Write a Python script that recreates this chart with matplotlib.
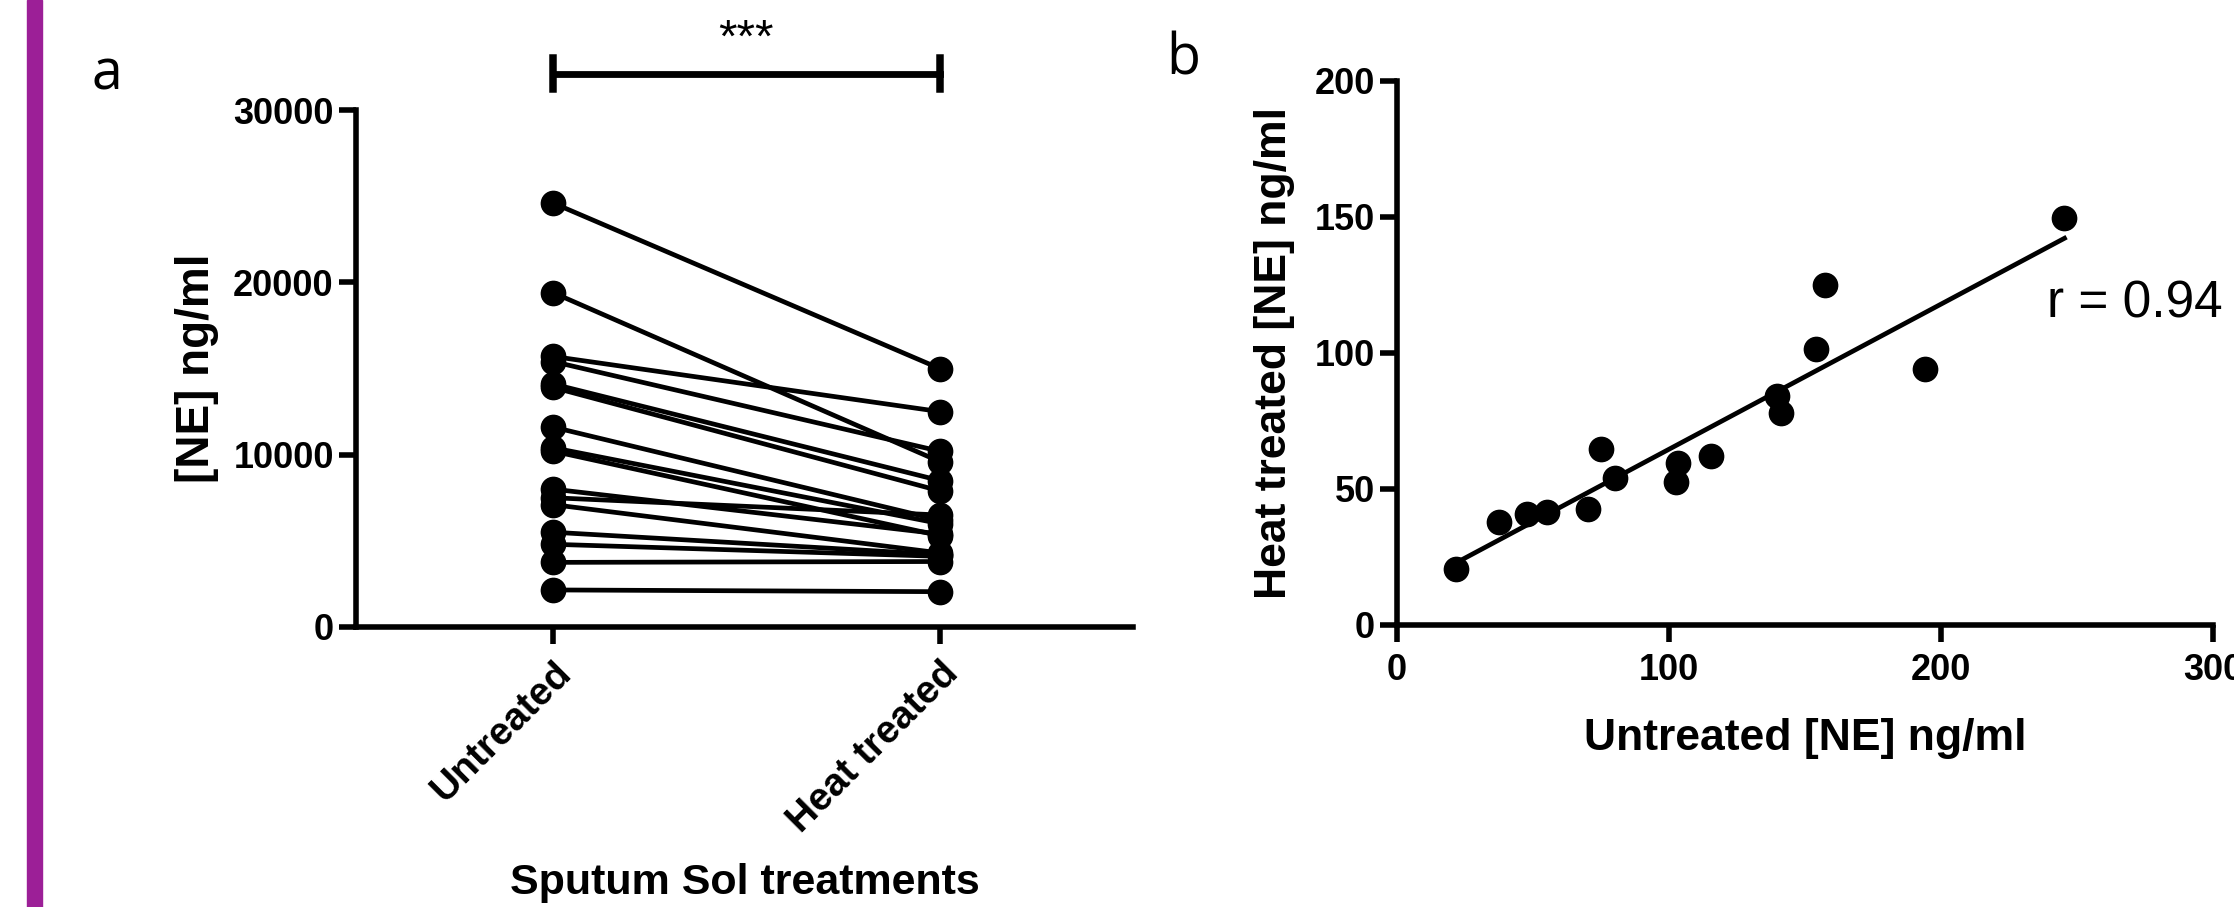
import matplotlib
matplotlib.use("Agg")
import matplotlib.pyplot as plt
import numpy as np
from matplotlib.patches import Rectangle

plt.rcParams['font.family'] = ['Liberation Sans', 'DejaVu Sans']

# panel a: paired NE concentrations (ng/ml)
groups = ["Untreated", "Heat treated"]
untreated_a = [24600, 19400, 15700, 15400, 14100, 13900, 11600, 10400,
               10200, 8000, 7500, 7100, 5500, 4800, 3750, 2150]
heat_a = [15000, 9600, 12500, 10200, 8500, 7900, 6200, 6000,
          5300, 5400, 6500, 4300, 4200, 4100, 3800, 2050]

# panel b: same samples on the other scale
untreated_b = [21.8, 37.6, 47.8, 55.1, 70.4, 74.9, 80.0, 102.4,
               103.4, 115.6, 139.7, 141.2, 153.9, 157.2, 194.1, 245.4]
heat_b = [20.5, 37.9, 40.9, 41.5, 42.6, 64.7, 54.0, 52.6,
          59.6, 62.1, 84.3, 77.9, 101.5, 125.1, 94.0, 149.6]
r_text = "r = 0.94"

W, H = 2234, 907
fig = plt.figure(figsize=(W / 100, H / 100), dpi=100)

# purple bar on the left edge
fig.patches.append(Rectangle((27 / W, 0), 15 / W, 1, transform=fig.transFigure,
                             color="#9c1f97", zorder=0))

lw = 3.4
ms = 17.5

# ---- panel a
ax1 = fig.add_axes([356 / W, 1 - 627 / H, (1133 - 356) / W, (627 - 110) / H])
for u, h in zip(untreated_a, heat_a):
    ax1.plot([0, 1], [u, h], color="black", lw=lw, marker="o", ms=ms,
             clip_on=False)
ax1.set_xlim(-0.51, 1.5)
ax1.set_ylim(0, 30000)
ax1.set_yticks([0, 10000, 20000, 30000])
ax1.set_xticks([0, 1])
ax1.set_xticklabels(groups, rotation=45, ha="right", va="top",
                    rotation_mode="anchor", fontweight="bold", fontsize=28)
ax1.set_ylabel("[NE] ng/ml", fontsize=33, fontweight="bold", labelpad=10)
ax1.set_xlabel("Sputum Sol treatments", fontsize=31, fontweight="bold",
               labelpad=17)

# significance bracket
yb = 32100
ax1.plot([0, 1], [yb, yb], color="black", lw=lw + 1.5, clip_on=False)
ax1.plot([0, 0], [yb - 900, yb + 900], color="black", lw=lw + 2, clip_on=False)
ax1.plot([1, 1], [yb - 900, yb + 900], color="black", lw=lw + 2, clip_on=False)
ax1.text(0.5, yb + 700, "***", ha="center", va="bottom", fontsize=34)

# ---- panel b
ax2 = fig.add_axes([1397 / W, 1 - 625 / H, (2213 - 1397) / W, (625 - 81) / H])
ax2.plot(untreated_b, heat_b, "o", color="black", ms=ms, clip_on=False)
k, b = np.polyfit(untreated_b, heat_b, 1)
xs = np.array([min(untreated_b), max(untreated_b)])
ax2.plot(xs, k * xs + b, color="black", lw=lw)
ax2.set_xlim(0, 300)
ax2.set_ylim(0, 200)
ax2.set_xticks([0, 100, 200, 300])
ax2.set_yticks([0, 50, 100, 150, 200])
ax2.set_xlabel("Untreated [NE] ng/ml", fontsize=32, fontweight="bold",
               labelpad=22)
ax2.set_ylabel("Heat treated [NE] ng/ml", fontsize=32, fontweight="bold",
               labelpad=14)
ax2.text(239, 118, r_text, fontsize=37, ha="left", va="center")

for ax in (ax1, ax2):
    ax.spines[["top", "right"]].set_visible(False)
    ax.spines[["left", "bottom"]].set_linewidth(4)
    ax.tick_params(width=4, length=12, labelsize=26, pad=4)
    for t in ax.get_yticklabels() + ax.get_xticklabels():
        t.set_fontweight("bold")
ax1.tick_params(axis="x", labelsize=28, pad=8)
ax2.tick_params(axis="x", pad=8)

fig.text(107 / W, 1 - 75 / H, "a", fontsize=40, ha="center", va="center",
         family="Open Sans")
fig.text(1183 / W, 1 - 60 / H, "b", fontsize=40, ha="center", va="center",
         family="Open Sans")

fig.savefig("out.png", dpi=100)
